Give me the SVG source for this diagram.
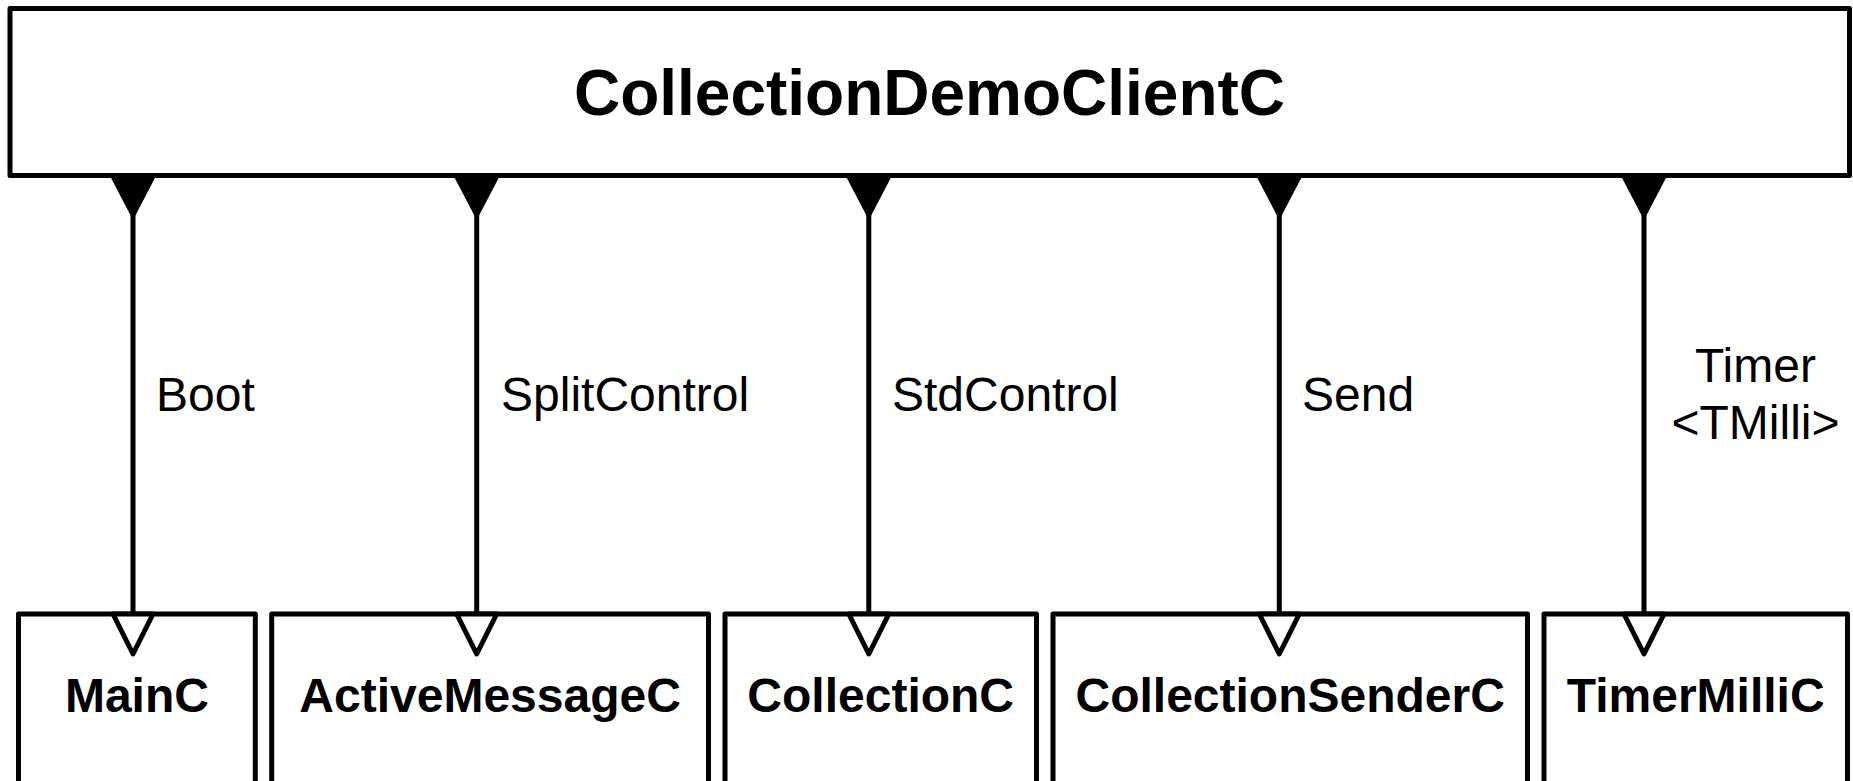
<svg xmlns="http://www.w3.org/2000/svg" width="1853" height="781" viewBox="0 0 1853 781">
<style>
.box{fill:#fff;stroke:#000;stroke-width:5;stroke-linejoin:round}
.title{font-family:"Liberation Sans",Arial,sans-serif;font-weight:bold;font-size:64px;text-anchor:middle;fill:#000}
.name{font-family:"Liberation Sans",Arial,sans-serif;font-weight:bold;font-size:48px;text-anchor:middle;fill:#000}
.lbl{font-family:"Liberation Sans",Arial,sans-serif;font-size:48px;fill:#000}
.wire{stroke:#000;stroke-width:5;fill:none}
.head{fill:#000;stroke:none}
.open{fill:#fff;stroke:#000;stroke-width:5;stroke-linejoin:round}
</style>
<rect width="1853" height="781" fill="#fff"/>
<g id="CollectionDemoClientC">
<rect class="box" x="10" y="8.5" width="1839.5" height="167"/>
<text class="title" x="929.5" y="115">CollectionDemoClientC</text>
</g>
<g id="MainC">
<rect class="box" x="18.5" y="614" width="236.8" height="190"/>
<text class="name" x="136.9" y="712">MainC</text>
</g>
<g id="ActiveMessageC">
<rect class="box" x="271.7" y="614" width="436.8" height="190"/>
<text class="name" x="490.1" y="712">ActiveMessageC</text>
</g>
<g id="CollectionC">
<rect class="box" x="725" y="614" width="311.5" height="190"/>
<text class="name" x="880.7" y="712">CollectionC</text>
</g>
<g id="CollectionSenderC">
<rect class="box" x="1053" y="614" width="474.5" height="190"/>
<text class="name" x="1290.2" y="712">CollectionSenderC</text>
</g>
<g id="TimerMilliC">
<rect class="box" x="1544" y="614" width="303.5" height="190"/>
<text class="name" x="1695.7" y="712">TimerMilliC</text>
</g>
<g id="connectors">
<g id="c-boot">
<line class="wire" x1="133" y1="176" x2="133" y2="614"/>
<polygon class="head" points="110,176 156,176 133,220"/>
<polygon class="open" points="113,614 153,614 133,654"/>
<text class="lbl" x="156" y="411">Boot</text>
</g>
<g id="c-split">
<line class="wire" x1="476.7" y1="176" x2="476.7" y2="614"/>
<polygon class="head" points="453.7,176 499.7,176 476.7,220"/>
<polygon class="open" points="456.7,614 496.7,614 476.7,654"/>
<text class="lbl" x="501" y="411">SplitControl</text>
</g>
<g id="c-std">
<line class="wire" x1="868.8" y1="176" x2="868.8" y2="614"/>
<polygon class="head" points="845.8,176 891.8,176 868.8,220"/>
<polygon class="open" points="848.8,614 888.8,614 868.8,654"/>
<text class="lbl" x="892" y="411">StdControl</text>
</g>
<g id="c-send">
<line class="wire" x1="1279.3" y1="176" x2="1279.3" y2="614"/>
<polygon class="head" points="1256.3,176 1302.3,176 1279.3,220"/>
<polygon class="open" points="1259.3,614 1299.3,614 1279.3,654"/>
<text class="lbl" x="1302" y="411">Send</text>
</g>
<g id="c-timer">
<line class="wire" x1="1644" y1="176" x2="1644" y2="614"/>
<polygon class="head" points="1621,176 1667,176 1644,220"/>
<polygon class="open" points="1624,614 1664,614 1644,654"/>
<text class="lbl" x="1755.5" y="382" text-anchor="middle">Timer</text>
<text class="lbl" x="1755.5" y="439" text-anchor="middle">&lt;TMilli&gt;</text>
</g>
</g>
</svg>
